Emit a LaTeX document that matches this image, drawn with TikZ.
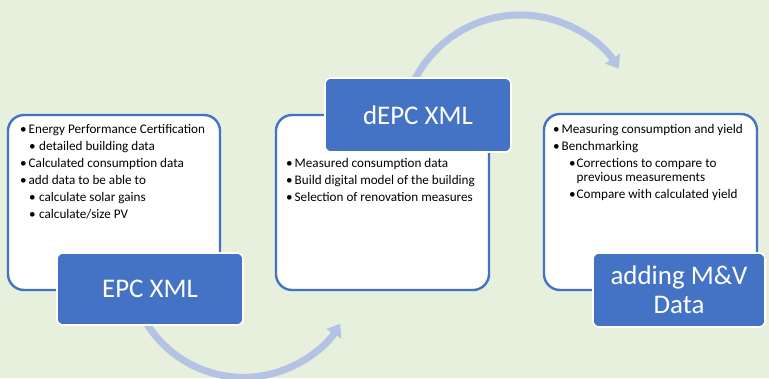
\documentclass[tikz,border=0pt]{standalone}
\usepackage{fontspec}
\setmainfont{Carlito}
\usetikzlibrary{arrows.meta}
\definecolor{bg}{HTML}{E7EFDD}
\definecolor{accent}{HTML}{4472C4}
\definecolor{arcc}{HTML}{B4C2E4}
\newcommand\Bu{\makebox[8.5bp][l]{•}}
\newcommand\Sb{\hspace*{9bp}\makebox[10bp][l]{•}}
\newcommand\Sbr{\hspace*{16bp}\makebox[7.5bp][l]{•}}
\begin{document}
\begin{tikzpicture}[x=1bp,y=1bp,
  panel/.style={draw=accent,line width=2.4bp,fill=white,rounded corners=16bp},
  titlebox/.style={draw=white,line width=1.6bp,fill=accent,rounded corners=6bp,text=white,font=\fontsize{27}{29}\selectfont,align=center},
  bodytext/.style={anchor=north west,inner sep=0pt,align=left,font=\fontsize{13.2}{14}\selectfont},
  flow/.style={draw=arcc,line width=7bp,-{Triangle[width=17bp,length=12bp]}}]
\fill[bg] (0,0) rectangle (769,378);
\useasboundingbox (0,0) rectangle (769,378);
% arcs
\coordinate (c1) at (243.5,114.7);
\coordinate (c2) at (520,245);
\draw[flow] ([shift={(200:114)}]c1) arc[start angle=200,end angle=328,radius=114];
\draw[flow] ([shift={(165:118)}]c2) arc[start angle=165,end angle=33,radius=118];
% panels
\draw[panel] (8,88) rectangle (220,263);
\draw[panel] (276,88) rectangle (489,263);
\draw[panel] (544,88) rectangle (757,264);
% text
\node[bodytext] (t1) at (20,254) {\Bu Energy Performance Certification\\[3bp]
\Sb detailed building data\\[3bp]
\Bu Calculated consumption data\\[3bp]
\Bu add data to be able to\\[3bp]
\Sb calculate solar gains\\[3bp]
\Sb calculate/size PV};
\node[bodytext] (t2) at (286,220) {\Bu Measured consumption data\\[3bp]
\Bu Build digital model of the building\\[3bp]
\Bu Selection of renovation measures};
\node[bodytext] (t3) at (553,254) {\Bu Measuring consumption and yield\\[3bp]
\Bu Benchmarking\\[3bp]
\Sbr Corrections to compare to\\
\hspace*{23.5bp}previous measurements\\[3bp]
\Sbr Compare with calculated yield};
% title boxes
\node[titlebox,minimum width=186bp,minimum height=72bp] (b1) at (150,89) {EPC XML};
\node[titlebox,minimum width=186bp,minimum height=74bp] (b2) at (418,263) {dEPC XML};
\node[titlebox,minimum width=172bp,minimum height=74bp] (b3) at (679,88) {adding M\&V\\Data};
\end{tikzpicture}
\end{document}
